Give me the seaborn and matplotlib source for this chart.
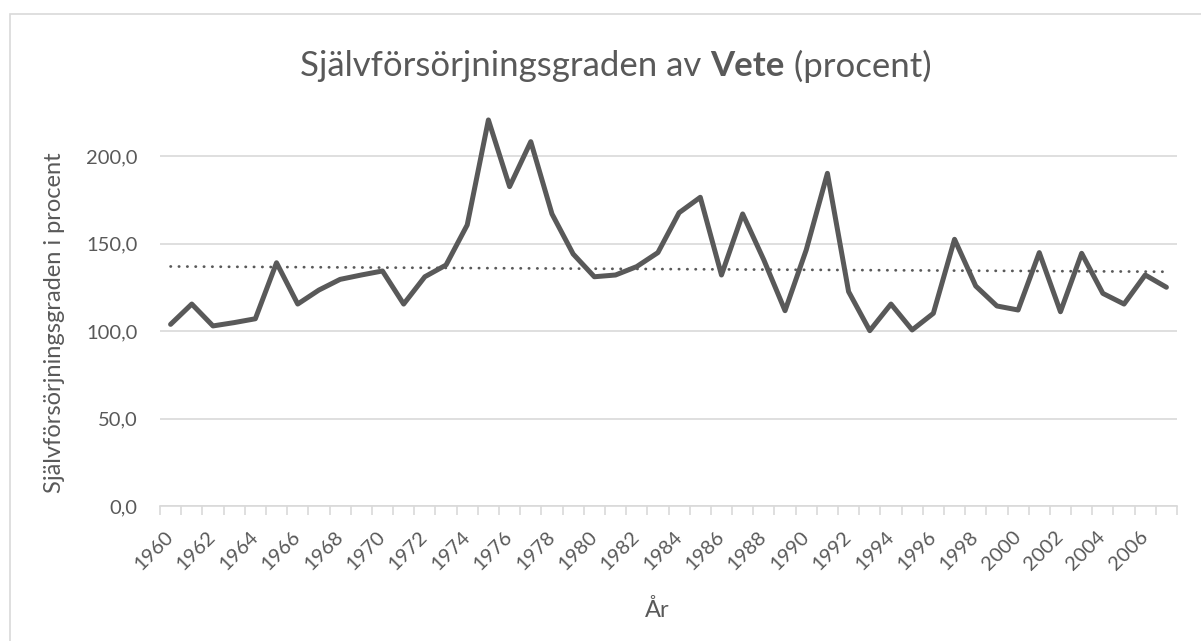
import numpy as np
import pandas as pd
import matplotlib
matplotlib.use("Agg")
import matplotlib.pyplot as plt
from matplotlib.ticker import FuncFormatter, FixedLocator
from matplotlib.patches import Rectangle
import seaborn as sns

# Values (self-sufficiency for wheat, percent)
years = list(range(1960, 2008))
vete = [103.8, 115.4, 102.9, 104.8, 107.0, 139.0, 115.4, 123.4, 129.5, 132.0,
        134.3, 115.4, 131.0, 137.7, 160.6, 220.6, 182.5, 208.2, 166.9, 144.0,
        131.0, 132.0, 136.8, 144.8, 167.6, 176.4, 132.0, 166.9, 140.6, 111.6,
        146.3, 190.1, 122.5, 100.2, 115.4, 100.6, 110.1, 152.4, 125.7, 114.3,
        112.0, 144.8, 111.0, 144.4, 121.5, 115.4, 132.0, 125.0]
tick_years = list(range(1960, 2007, 2))

title_parts = ["Självförsörjningsgraden av ", "Vete", " (procent)"]
y_label = "Självförsörjningsgraden i procent"
x_label = "År"

df = pd.DataFrame({"year": years, "value": vete})

sns.set_theme(style="white")
plt.rcParams['font.family'] = ['Lato', 'DejaVu Sans']
grey = "#595959"
light = "#d9d9d9"

W, H = 1201, 641
fig = plt.figure(figsize=(W / 100, H / 100), dpi=100)
ax = fig.add_axes([160 / W, 1 - 506 / H, (1177 - 160) / W, (506 - 103.5) / H])

# outer chart border
fig.patches.append(Rectangle((10 / W, -0.05), 1.2, 1 - 14 / H + 0.05,
                             transform=fig.transFigure, fill=False,
                             edgecolor=light, linewidth=1.2))

sns.lineplot(data=df, x="year", y="value", ax=ax, color=grey, linewidth=3.6,
             solid_joinstyle="round", solid_capstyle="round", zorder=3)

# linear trend line (Excel style dotted)
sns.regplot(data=df, x="year", y="value", ax=ax, scatter=False, ci=None,
            truncate=True,
            line_kws=dict(color=grey, linewidth=2.0, linestyle=(0, (0.1, 2.9)),
                          dash_capstyle="round", zorder=2))

ax.set_xlim(1959.5, 2007.5)
ax.set_ylim(0, 230)
ax.set_yticks([0, 50, 100, 150, 200])
ax.yaxis.set_major_formatter(FuncFormatter(lambda v, p: f"{v:.1f}".replace(".", ",")))
ax.grid(axis="y", color=light, linewidth=1.2)
ax.set_axisbelow(True)
ax.set_xlabel("")
ax.set_ylabel("")

ax.xaxis.set_major_locator(FixedLocator(tick_years))
ax.xaxis.set_minor_locator(FixedLocator(np.arange(1959.5, 2008, 1)))
ax.set_xticklabels([str(y) for y in tick_years], rotation=45, ha="right",
                   va="center", rotation_mode="anchor")
ax.tick_params(axis="x", which="major", length=0, pad=20, labelsize=14.5, labelcolor=grey)
ax.tick_params(axis="x", which="minor", length=6.5, width=1.2, color=light, bottom=True)
ax.tick_params(axis="y", length=0, pad=16, labelsize=14.5, labelcolor=grey)

for s in ["top", "right", "left"]:
    ax.spines[s].set_visible(False)
ax.spines["bottom"].set_color(light)
ax.spines["bottom"].set_linewidth(1.2)

fig.text(55 / W, 1 - 323 / H, y_label, fontsize=17, color=grey, rotation=90,
         ha="center", va="center")
fig.text(657 / W, 1 - 610 / H, x_label, fontsize=17, color=grey,
         ha="center", va="center")

# title with bold middle word, centered as a whole
fig.canvas.draw()
renderer = fig.canvas.get_renderer()
weights = ["normal", "bold", "normal"]
texts = []
for part, w in zip(title_parts, weights):
    t = fig.text(0, 1 - 66 / H, part, fontsize=25, color=grey, weight=w,
                 va="center", ha="left")
    texts.append(t)
widths = [t.get_window_extent(renderer).width for t in texts]
x0 = 616 - sum(widths) / 2
for t, w in zip(texts, widths):
    t.set_x(x0 / W)
    x0 += w

fig.savefig("out.png", dpi=100, facecolor="white")
